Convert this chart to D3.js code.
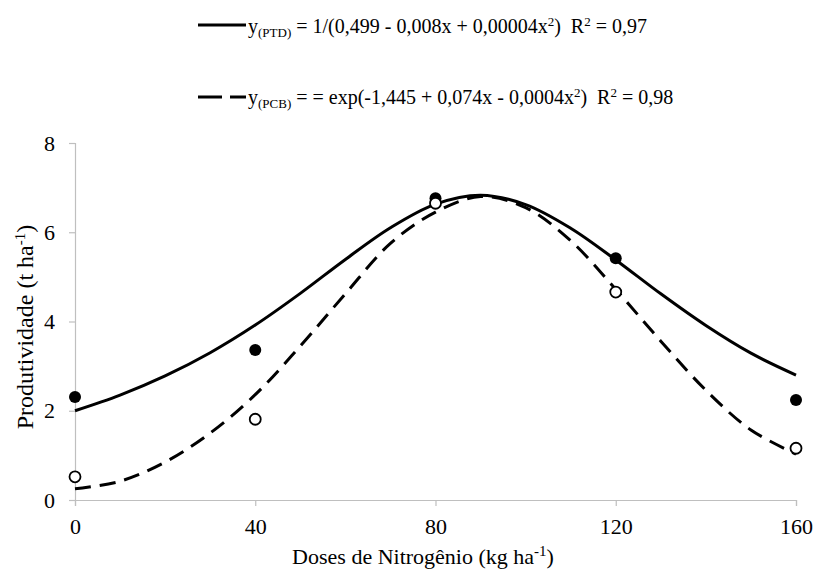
<!DOCTYPE html>
<html>
<head>
<meta charset="utf-8">
<script src="https://cdn.jsdelivr.net/npm/d3@7"></script>
<style>
  body { margin: 0; background: #fff; }
  svg text { font-family: "Liberation Serif", "Times New Roman", serif; fill: #000; }
</style>
</head>
<body>
<script>
// doses (kg ha-1) and observed yields (t ha-1)
var doses = [0, 40, 80, 120, 160];
var obsPTD = [2.31, 3.36, 6.76, 5.42, 2.24];
var obsPCB = [0.52, 1.81, 6.65, 4.66, 1.16];

// fitted curves, every 10 kg
var curveX = [0, 10, 20, 30, 40, 50, 60, 70, 80, 90, 100, 110, 120, 130, 140, 150, 160];
var fitPTD = [2.00, 2.35, 2.78, 3.30, 3.92, 4.63, 5.39, 6.10, 6.63, 6.83, 6.62, 6.09, 5.38, 4.62, 3.91, 3.29, 2.80];
var fitPCB = [0.25, 0.42, 0.85, 1.50, 2.36, 3.45, 4.62, 5.75, 6.45, 6.80, 6.55, 5.81, 4.72, 3.56, 2.46, 1.57, 1.03];

var xTicks = [0, 40, 80, 120, 160];
var yTicks = [0, 2, 4, 6, 8];

(function(d3) {

  var svg = d3.select("body").append("svg")
        .attr("width", 817)
        .attr("height", 572),
      margin = {top: 143, right: 21, bottom: 72, left: 75},
      width = +svg.attr("width") - margin.left - margin.right,
      height = +svg.attr("height") - margin.top - margin.bottom,
      g = svg.append("g").attr("transform", "translate(" + margin.left + "," + margin.top + ")");

  var x = d3.scaleLinear()
      .domain([0, 160])
      .range([0, width]);

  var y = d3.scaleLinear()
      .domain([0, 8])
      .range([height, 0]);

  var xAxis = g.append("g")
      .attr("transform", "translate(0," + height + ")")
      .call(d3.axisBottom(x).tickValues(xTicks).tickSize(6).tickPadding(12));

  var yAxis = g.append("g")
      .call(d3.axisLeft(y).tickValues(yTicks).tickSize(6).tickPadding(14));

  [xAxis, yAxis].forEach(function(a) {
    a.attr("font-family", null).attr("font-size", null);
    a.select(".domain").attr("stroke", "#bfbfbf").attr("stroke-width", 1.2);
    a.selectAll(".tick line").attr("stroke", "#bfbfbf").attr("stroke-width", 1.2);
    a.selectAll(".tick text")
        .style("font-size", "22px");
  });

  // axis titles
  var xt = svg.append("text")
      .attr("x", 423)
      .attr("y", 564)
      .attr("text-anchor", "middle")
      .style("font-size", "22px");
  xt.append("tspan").text("Doses de Nitrogênio (kg ha");
  xt.append("tspan").attr("dy", -8).style("font-size", "15px").text("-1");
  xt.append("tspan").attr("dy", 8).text(")");

  var yt = svg.append("text")
      .attr("transform", "translate(33,327) rotate(-90)")
      .attr("text-anchor", "middle")
      .style("font-size", "24px");
  yt.append("tspan").text("Produtividade (t ha");
  yt.append("tspan").attr("dy", -8).style("font-size", "15px").text("-1");
  yt.append("tspan").attr("dy", 8).text(")");

  var line = d3.line()
      .x(function(d) { return x(d[0]); })
      .y(function(d) { return y(d[1]); })
      .curve(d3.curveCatmullRom);

  g.append("path")
      .datum(d3.zip(curveX, fitPTD))
      .attr("fill", "none")
      .attr("stroke", "#000")
      .attr("stroke-width", 3)
      .attr("d", line);

  g.append("path")
      .datum(d3.zip(curveX, fitPCB))
      .attr("fill", "none")
      .attr("stroke", "#000")
      .attr("stroke-width", 3)
      .attr("stroke-dasharray", "16,9")
      .attr("d", line);

  g.selectAll(".ptd")
      .data(d3.zip(doses, obsPTD))
    .enter().append("circle")
      .attr("class", "ptd")
      .attr("cx", function(d) { return x(d[0]); })
      .attr("cy", function(d) { return y(d[1]); })
      .attr("r", 6)
      .attr("fill", "#000");

  g.selectAll(".pcb")
      .data(d3.zip(doses, obsPCB))
    .enter().append("circle")
      .attr("class", "pcb")
      .attr("cx", function(d) { return x(d[0]); })
      .attr("cy", function(d) { return y(d[1]); })
      .attr("r", 5.5)
      .attr("fill", "#fff")
      .attr("stroke", "#000")
      .attr("stroke-width", 1.8);

  // legend
  var legend = [
    {dash: null, ly: 25, ty: 33, name: "(PTD)", eq: " = 1/(0,499 - 0,008x + 0,00004x", r2: "0,97"},
    {dash: "24,8", ly: 97, ty: 104, name: "(PCB)", eq: " = = exp(-1,445 + 0,074x - 0,0004x", r2: "0,98"}
  ];

  legend.forEach(function(l) {
    svg.append("line")
        .attr("x1", 198).attr("x2", 246)
        .attr("y1", l.ly).attr("y2", l.ly)
        .attr("stroke", "#000")
        .attr("stroke-width", 3)
        .attr("stroke-dasharray", l.dash);

    var t = svg.append("text")
        .attr("x", 248)
        .attr("y", l.ty)
        .style("font-size", "20px");
    t.append("tspan").text("y");
    t.append("tspan").attr("dy", 4).style("font-size", "13px").text(l.name);
    t.append("tspan").attr("dy", -4).text(l.eq);
    t.append("tspan").attr("dy", -7).style("font-size", "13px").text("2");
    t.append("tspan").attr("dy", 7).text(")\u00a0\u00a0R");
    t.append("tspan").attr("dy", -7).style("font-size", "13px").text("2");
    t.append("tspan").attr("dy", 7).text(" = " + l.r2);
  });

}(d3));
</script>
</body>
</html>
